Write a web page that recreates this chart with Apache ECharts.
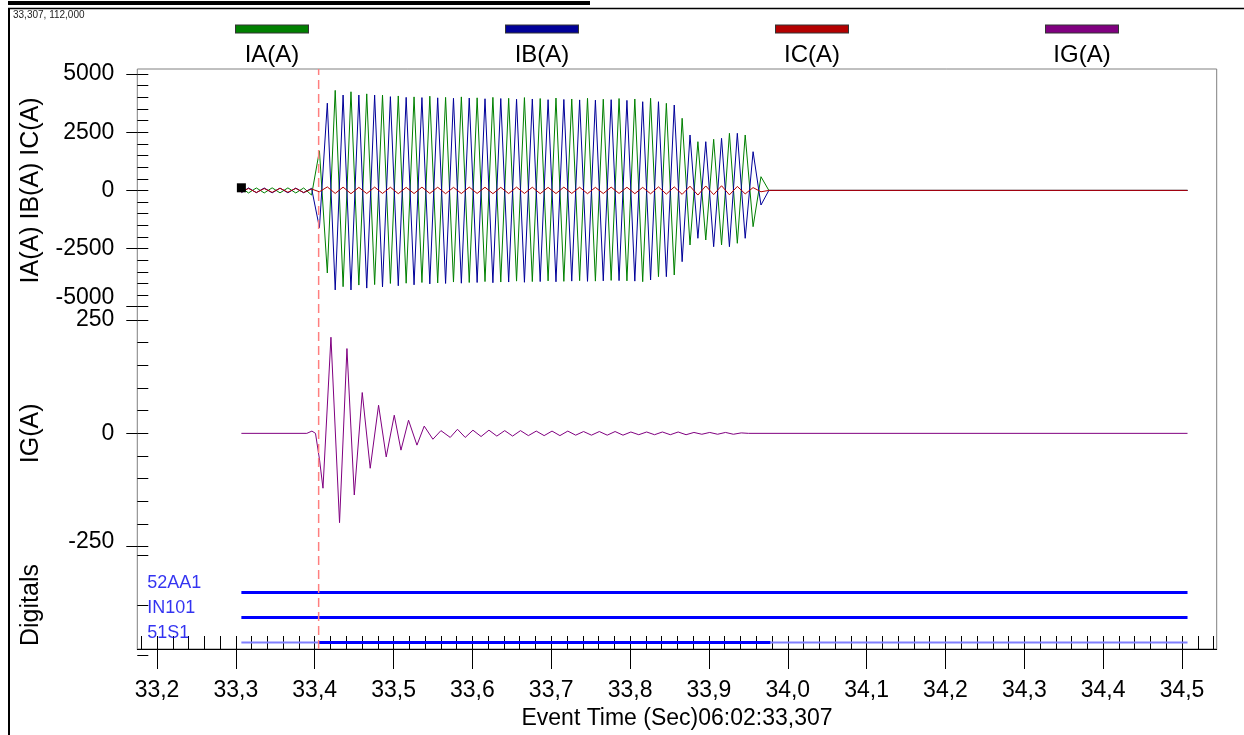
<!DOCTYPE html>
<html><head><meta charset="utf-8">
<script src="https://cdn.jsdelivr.net/npm/echarts@6/dist/echarts.min.js"></script>
<style>html,body{margin:0;padding:0;background:#fff}#c{width:1244px;height:735px}</style>
</head><body><div id="c"></div>
<script>
const FONT = '"Liberation Sans", Arial, sans-serif';

// ---- axes / tick labels ----
const X_MIN = 33.175, X_MAX = 34.544;
const X_TICK_LABELS = [33.2, 33.3, 33.4, 33.5, 33.6, 33.7, 33.8, 33.9, 34.0, 34.1, 34.2, 34.3, 34.4, 34.5];
const X_NAME = 'Event Time (Sec)06:02:33,307';
const Y_NAMES = ['IA(A) IB(A) IC(A)', 'IG(A)', 'Digitals'];

// cursor & trigger
const CURSOR = [33.307, 112];
const TRIGGER_T = 33.405;

// ---- analog channels (extrema of each half cycle) ----
const LEGEND_NAMES = ['IA(A)', 'IB(A)', 'IC(A)', 'IG(A)'];
const COLORS = ['#008000', '#000099', '#b40000', '#800080'];

const T = [33.307, 33.316, 33.326, 33.336, 33.346, 33.356, 33.366, 33.376, 33.386, 33.396,
  33.406, 33.416, 33.426, 33.436, 33.446, 33.456, 33.466, 33.476, 33.486, 33.496,
  33.506, 33.516, 33.526, 33.536, 33.546, 33.556, 33.566, 33.576, 33.586, 33.596,
  33.606, 33.616, 33.626, 33.636, 33.646, 33.656, 33.666, 33.676, 33.686, 33.696,
  33.706, 33.716, 33.726, 33.736, 33.746, 33.756, 33.766, 33.776, 33.786, 33.796,
  33.806, 33.816, 33.826, 33.836, 33.846, 33.856, 33.866, 33.876, 33.886, 33.896,
  33.906, 33.916, 33.926, 33.936, 33.946, 33.956, 33.966, 33.976, 34.507];

const IA = [112, -110, 105, -108, 110, -106, 108, -110, 104, -200,
  1700, -3550, 4300, -4140, 4240, -4070, 4150, -4050, 4100, -4000,
  4060, -3990, 4020, -3960, 4050, -3980, 4000, -3940, 4020, -3960,
  3980, -3920, 4000, -3940, 3960, -3900, 3990, -3920, 3950, -3890,
  3970, -3910, 3930, -3880, 3960, -3900, 3920, -3870, 3950, -3890,
  3930, -3925, 3960, -3710, 3744, -3637, 3100, -2347, 2094, -2132,
  2197, -2347, 2455, -2274, 2382, -1560, 589, 0, 0];

const IB = [-100, 105, -98, 102, -104, 100, -103, 99, -101, 90,
  -1600, 3750, -4280, 4100, -4280, 4100, -4200, 4100, -4150, 4030,
  -4100, 4000, -4060, 3990, -4020, 3980, -4000, 3960, -3990, 3970,
  -3960, 3940, -3970, 3950, -3940, 3920, -3950, 3930, -3920, 3900,
  -3930, 3910, -3900, 3890, -3910, 3880, -3890, 3900, -3880, 3870,
  -3900, 3813, -3852, 3813, -3710, 3671, -3065, 2382, -2059, 2094,
  -2420, 2240, -2420, 2455, -2059, 1664, -628, 0, 0];

const IC = [-80, 85, -90, 80, -85, 90, -80, 85, -90, 60,
  -60, 150, -130, 140, -140, 130, -135, 140, -130, 135,
  -140, 130, -135, 140, -130, 135, -140, 130, -135, 140,
  -130, 135, -140, 130, -135, 140, -130, 135, -140, 130,
  -135, 140, -130, 135, -140, 130, -135, 140, -130, 135,
  -140, 130, -145, 150, -160, 150, -170, 180, -200, 190,
  -180, 200, -190, 170, -150, 120, -60, 0, 0];

const IG_T = [33.307, 33.390, 33.3965, 33.401, 33.4062, 33.4105, 33.4206, 33.4315, 33.4409, 33.4502,
  33.4603, 33.4704, 33.4810, 33.4907, 33.5009, 33.5094, 33.5190, 33.5297, 33.5389, 33.5499,
  33.5601, 33.5719, 33.5811, 33.5909, 33.6007, 33.611, 33.621, 33.631, 33.641, 33.651,
  33.661, 33.671, 33.681, 33.691, 33.701, 33.711, 33.721, 33.731, 33.741, 33.751,
  33.761, 33.771, 33.781, 33.791, 33.801, 33.811, 33.821, 33.831, 33.841, 33.851,
  33.861, 33.871, 33.881, 33.891, 33.901, 33.911, 33.921, 33.931, 33.941, 33.950, 34.507];
const IG = [0, 0, 5, 0, -59, -121, 212, -197, 187, -136,
  90, -77, 62, -52, 40, -37, 29, -26, 16, -13,
  6, -9, 9, -9, 7, -7, 7, -6, 6, -6,
  6, -5, 5, -5, 5, -5, 5, -4, 4, -4,
  4, -4, 4, -4, 3, -3, 3, -3, 3, -3,
  3, -3, 2, -2, 2, -2, 2, -2, 1, 0, 0];

// ---- digital channels ----
const DIG_NAMES = ['52AA1', 'IN101', '51S1'];
const DIG_LEVEL = [2.5, 1.5, 0.5];
const DIG_TIMES = [[33.307, 34.507], [33.307, 34.507], [33.307, 33.405, 33.978, 34.507]];
const DIG_STATES = [[1], [1], [0, 1, 0]];

// ---- helpers ----
const pairs = (ts, vs) => ts.map((t, i) => [t, vs[i]]);
const comma = (v, d) => v.toFixed(d).replace('.', ',');
const X_MINOR = [];
for (let i = 0; i <= 68; i++) X_MINOR.push(+(33.18 + i * 0.02).toFixed(2));

function digData(ch, state) {
  const d = [];
  DIG_STATES[ch].forEach((s, j) => {
    if (s === state) {
      if (d.length) d.push(null);
      d.push([DIG_TIMES[ch][j], DIG_LEVEL[ch]], [DIG_TIMES[ch][j + 1], DIG_LEVEL[ch]]);
    }
  });
  return d;
}

const GL = 137.3, GW = 1079.4;
const grids = [
  { left: GL, width: GW, top: 69, height: 586, show: true, borderColor: '#808080', borderWidth: 1 },
  { left: GL, width: GW, top: 74.1, height: 232.6 },
  { left: GL, width: GW, top: 320, height: 226.7 },
  { left: GL, width: GW, top: 555, height: 100 }
];

const hiddenX = (g) => ({ gridIndex: g, type: 'value', min: X_MIN, max: X_MAX, show: false });

const xAxes = [
  {
    gridIndex: 0, type: 'value', min: X_MIN, max: X_MAX, position: 'bottom',
    axisLine: { show: true, lineStyle: { color: '#000', width: 1 } },
    axisTick: { show: true, inside: false, length: 20, customValues: X_TICK_LABELS, lineStyle: { color: '#000' } },
    axisLabel: { show: true, customValues: X_TICK_LABELS, formatter: v => comma(v, 1), fontSize: 23, margin: 30, color: '#000', fontFamily: FONT },
    splitLine: { show: false },
    name: X_NAME, nameLocation: 'middle', nameGap: 58,
    nameTextStyle: { fontSize: 23, color: '#000', fontFamily: FONT }
  },
  {
    gridIndex: 0, type: 'value', min: X_MIN, max: X_MAX, position: 'bottom',
    axisLine: { show: false },
    axisTick: { show: true, inside: true, length: 13, customValues: X_MINOR, lineStyle: { color: '#000' } },
    axisLabel: { show: false }, splitLine: { show: false }
  },
  hiddenX(1), hiddenX(2), hiddenX(3)
];

const labelRich = {
  up9: { padding: [0, 0, 18, 0], fontSize: 23, color: '#000', fontFamily: FONT },
  up5: { padding: [0, 0, 10, 0], fontSize: 23, color: '#000', fontFamily: FONT }
};

function labelAxis(g, min, max, interval, name, shiftMap) {
  return {
    gridIndex: g, type: 'value', min, max, interval, position: 'left',
    axisLine: { show: false },
    axisTick: { show: true, inside: false, length: 11, lineStyle: { color: '#000' } },
    axisLabel: {
      show: true, fontSize: 23, color: '#000', fontFamily: FONT, margin: 23,
      formatter: v => shiftMap[v] ? '{' + shiftMap[v] + '|' + v + '}' : String(v),
      rich: labelRich
    },
    splitLine: { show: false },
    name, nameLocation: 'middle', nameGap: 94,
    nameTextStyle: { fontSize: 25, color: '#000', fontFamily: FONT }
  };
}
function innerAxis(g, min, max, interval, minor) {
  return {
    gridIndex: g, type: 'value', min, max, interval, position: 'left',
    axisLine: { show: false },
    axisTick: { show: true, inside: true, length: 11, lineStyle: { color: '#000' } },
    minorTick: { show: minor, splitNumber: 5, length: 11, lineStyle: { color: '#000' } },
    axisLabel: { show: false }, splitLine: { show: false }, minorSplitLine: { show: false }
  };
}

const yAxes = [
  { gridIndex: 0, type: 'value', min: 0, max: 1, show: false },
  labelAxis(1, -5000, 5000, 2500, Y_NAMES[0], { '-5000': 'up9' }),
  innerAxis(1, -5000, 5000, 2500, true),
  labelAxis(2, -250, 250, 250, Y_NAMES[1], { '-250': 'up5' }),
  innerAxis(2, -250, 250, 250, true),
  Object.assign(innerAxis(3, 0, 4, 2, false), {
    name: Y_NAMES[2], nameLocation: 'middle', nameGap: 94,
    nameTextStyle: { fontSize: 25, color: '#000', fontFamily: FONT }
  })
];

const analog = (name, color, data, xi, yi) => ({
  name, type: 'line', xAxisIndex: xi, yAxisIndex: yi, data, color,
  showSymbol: false, symbol: 'none', lineStyle: { color, width: 1 }, animation: false, silent: true
});

const series = [
  analog(LEGEND_NAMES[0], COLORS[0], pairs(T, IA), 2, 1),
  analog(LEGEND_NAMES[1], COLORS[1], pairs(T, IB), 2, 1),
  analog(LEGEND_NAMES[2], COLORS[2], pairs(T, IC), 2, 1),
  {
    name: 'cursor', type: 'scatter', xAxisIndex: 2, yAxisIndex: 1, data: [CURSOR], z: 5,
    symbol: 'rect', symbolSize: 9, itemStyle: { color: '#000', opacity: 1 }, silent: true, animation: false
  },
  analog(LEGEND_NAMES[3], COLORS[3], pairs(IG_T, IG), 3, 3)
];

DIG_NAMES.forEach((n, ch) => {
  const off = digData(ch, 0);
  if (off.length) series.push({
    name: n + ' off', type: 'line', xAxisIndex: 4, yAxisIndex: 5, data: off, symbol: 'none',
    lineStyle: { color: '#8080ff', width: 2 }, animation: false, silent: true
  });
});
DIG_NAMES.forEach((n, ch) => {
  series.push({
    name: n, type: 'line', xAxisIndex: 4, yAxisIndex: 5, data: digData(ch, 1), symbol: 'none',
    lineStyle: { color: '#0000ff', width: 3 }, animation: false, silent: true
  });
});
series.push({
  name: 'digital names', type: 'scatter', xAxisIndex: 4, yAxisIndex: 5,
  data: DIG_NAMES.map((n, i) => [X_MIN, DIG_LEVEL[i], n]),
  symbolSize: 0, silent: true, animation: false,
  label: { show: true, position: 'right', distance: 10, offset: [0, -9], formatter: p => p.value[2], fontSize: 18, color: '#0000ee', fontFamily: FONT }
});
// trigger cursor: vertical dashed line across the whole frame
series.push({
  name: 'trigger', type: 'line', xAxisIndex: 0, yAxisIndex: 0,
  data: [[TRIGGER_T, 0], [TRIGGER_T, 1]], symbol: 'none', animation: false, silent: true, z: 4,
  lineStyle: { color: '#ff7f7f', type: [9, 5], width: 1.5 }
});

const legendRich = { t: { fontSize: 24, lineHeight: 46, align: 'center', color: '#000', fontFamily: FONT } };
COLORS.forEach((c, i) => {
  legendRich['b' + i] = { width: 72, height: 7, lineHeight: 7, backgroundColor: c, borderColor: '#333', borderWidth: 1 };
});

const option = {
  animation: false,
  backgroundColor: '#fff',
  title: {
    text: comma(CURSOR[0], 3) + ', ' + comma(CURSOR[1], 3),
    left: 13, top: 10, padding: 0,
    textStyle: { fontSize: 10, fontWeight: 'normal', color: '#222', fontFamily: FONT }
  },
  legend: {
    data: LEGEND_NAMES, left: 231, top: 23, padding: 0, itemGap: 192,
    itemWidth: 0, itemHeight: 0, icon: 'rect', selectedMode: false,
    formatter: name => '{b' + LEGEND_NAMES.indexOf(name) + '|}\n{t|' + name + '}',
    textStyle: { rich: legendRich }
  },
  graphic: [
    { type: 'rect', shape: { x: 8, y: 1, width: 582, height: 4 }, style: { fill: '#000' }, silent: true },
    { type: 'line', shape: { x1: 8, y1: 8.5, x2: 1244, y2: 8.5 }, style: { stroke: '#000', lineWidth: 1.5 }, silent: true },
    { type: 'line', shape: { x1: 9, y1: 8, x2: 9, y2: 735 }, style: { stroke: '#000', lineWidth: 2 }, silent: true }
  ],
  grid: grids,
  xAxis: xAxes,
  yAxis: yAxes,
  series
};

const chart = echarts.init(document.getElementById('c'), null, { renderer: 'canvas' });
chart.setOption(option);
</script>
</body></html>
